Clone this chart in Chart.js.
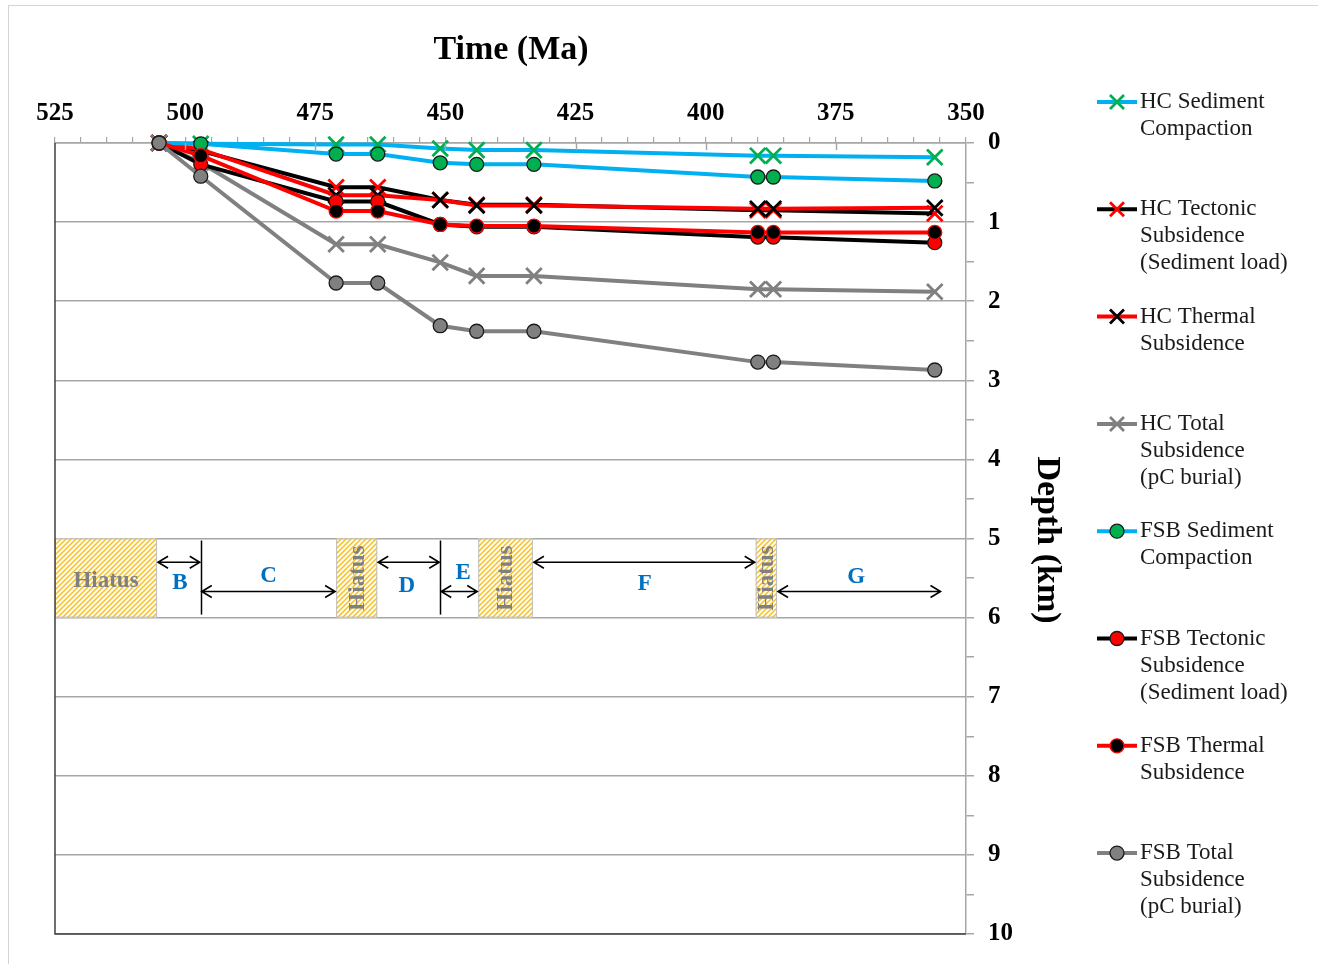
<!DOCTYPE html>
<html>
<head>
<meta charset="utf-8">
<script src="https://cdn.jsdelivr.net/npm/chart.js@4.4.1/dist/chart.umd.min.js"></script>
<style>
  html, body { margin: 0; padding: 0; background: #fff; }
  canvas { display: block; }
</style>
</head>
<body>
<canvas id="chart" width="1318" height="964"></canvas>
<script>
// ages (Ma) of the horizons
const ages = [505, 497, 471, 463, 451, 444, 433, 390, 387, 356];

// depth (km) for each series
const hcSedComp   = [0, 0.01, 0.02, 0.02, 0.07, 0.09, 0.09, 0.16, 0.16, 0.18];
const hcTectonic  = [0, 0.10, 0.56, 0.56, 0.72, 0.78, 0.78, 0.85, 0.85, 0.89];
const hcThermal   = [0, 0.08, 0.66, 0.66, 0.72, 0.79, 0.79, 0.83, 0.83, 0.82];
const hcTotal     = [0, 0.25, 1.28, 1.28, 1.51, 1.68, 1.68, 1.85, 1.85, 1.88];
const fsbSedComp  = [0, 0.01, 0.14, 0.14, 0.25, 0.27, 0.27, 0.43, 0.43, 0.48];
const fsbTectonic = [0, 0.27, 0.74, 0.74, 1.03, 1.06, 1.06, 1.19, 1.19, 1.26];
const fsbThermal  = [0, 0.16, 0.86, 0.86, 1.03, 1.05, 1.05, 1.13, 1.13, 1.13];
const fsbTotal    = [0, 0.42, 1.77, 1.77, 2.31, 2.38, 2.38, 2.77, 2.77, 2.87];

const seriesNames = [
  'HC Sediment Compaction', 'HC Tectonic Subsidence (Sediment load)', 'HC Thermal Subsidence',
  'HC Total Subsidence (pC burial)', 'FSB Sediment Compaction', 'FSB Tectonic Subsidence (Sediment load)',
  'FSB Thermal Subsidence', 'FSB Total Subsidence (pC burial)'
];
const legendLines = [
  ['HC Sediment', 'Compaction'],
  ['HC Tectonic', 'Subsidence', '(Sediment load)'],
  ['HC Thermal', 'Subsidence'],
  ['HC Total', 'Subsidence', '(pC burial)'],
  ['FSB Sediment', 'Compaction'],
  ['FSB Tectonic', 'Subsidence', '(Sediment load)'],
  ['FSB Thermal', 'Subsidence'],
  ['FSB Total', 'Subsidence', '(pC burial)']
];
const seriesValues = [hcSedComp, hcTectonic, hcThermal, hcTotal, fsbSedComp, fsbTectonic, fsbThermal, fsbTotal];

// time intervals shown in the 5-6 km band
const hiatusSpans = [[525, 505.4], [471, 463.1], [443.7, 433.2], [390.4, 386.3]];
const periodNames = ['B', 'C', 'D', 'E', 'F', 'G'];
const periodSpans = [[505.4, 497], [497, 471], [463.1, 451], [451, 443.7], [433.2, 390.4], [386.3, 354.7]];
const periodArrowDepth = [5.3, 5.67, 5.3, 5.67, 5.3, 5.67];
const periodLabelAt = [[501, 5.56], [484, 5.48], [457.4, 5.6], [446.6, 5.44], [411.7, 5.58], [371.1, 5.49]];
const boundaryAges = [497, 451];

const SERIF = "'Liberation Serif', 'Times New Roman', serif";

// line colour / marker per series
const styles = [
  { line: '#00b0f0', point: 'crossRot', fill: '#00b050', stroke: '#00b050' },
  { line: '#000000', point: 'crossRot', fill: '#ff0000', stroke: '#ff0000' },
  { line: '#ff0000', point: 'crossRot', fill: '#000000', stroke: '#000000' },
  { line: '#808080', point: 'crossRot', fill: '#808080', stroke: '#808080' },
  { line: '#00b0f0', point: 'circle',   fill: '#00b050', stroke: '#1a1a1a' },
  { line: '#000000', point: 'circle',   fill: '#ff0000', stroke: '#1a1a1a' },
  { line: '#ff0000', point: 'circle',   fill: '#000000', stroke: '#ff0000' },
  { line: '#808080', point: 'circle',   fill: '#808080', stroke: '#1a1a1a' }
];

const datasets = seriesValues.map((vals, i) => {
  const st = styles[i];
  const isCross = st.point === 'crossRot';
  return {
    label: seriesNames[i],
    data: ages.map((a, k) => ({ x: a, y: vals[k] })),
    borderColor: st.line,
    borderWidth: 4,
    pointStyle: st.point,
    pointRadius: isCross ? 11 : 7,
    pointBackgroundColor: st.fill,
    pointBorderColor: st.stroke,
    pointBorderWidth: isCross ? 2.8 : 1.3,
    tension: 0,
    clip: false,
    order: seriesValues.length - i
  };
});

function makeHatch(ctx) {
  const p = document.createElement('canvas');
  p.width = 5; p.height = 5;
  const g = p.getContext('2d');
  g.fillStyle = '#fffdf2';
  g.fillRect(0, 0, 5, 5);
  g.strokeStyle = '#f7be1e';
  g.lineWidth = 1.4;
  g.beginPath();
  g.moveTo(0, 5); g.lineTo(5, 0);
  g.moveTo(-1, 1); g.lineTo(1, -1);
  g.moveTo(4, 6); g.lineTo(6, 4);
  g.stroke();
  return ctx.createPattern(p, 'repeat');
}

function arrow(c, x1, x2, y) {
  c.beginPath();
  c.moveTo(x1, y); c.lineTo(x2, y);
  c.moveTo(x1 + 10, y - 6); c.lineTo(x1, y); c.lineTo(x1 + 10, y + 6);
  c.moveTo(x2 - 10, y - 6); c.lineTo(x2, y); c.lineTo(x2 - 10, y + 6);
  c.stroke();
}

function drawMarker(c, st, x, y) {
  if (st.point === 'crossRot') {
    const d = 7;
    c.strokeStyle = st.stroke; c.lineWidth = 2.8;
    c.beginPath();
    c.moveTo(x - d, y - d); c.lineTo(x + d, y + d);
    c.moveTo(x - d, y + d); c.lineTo(x + d, y - d);
    c.stroke();
  } else {
    c.fillStyle = st.fill; c.strokeStyle = st.stroke; c.lineWidth = 1.3;
    c.beginPath(); c.arc(x, y, 7, 0, Math.PI * 2); c.fill(); c.stroke();
  }
}

const decor = {
  id: 'decor',
  beforeDraw(chart) {
    const c = chart.ctx;
    c.save();
    c.fillStyle = '#fff';
    c.fillRect(0, 0, chart.width, chart.height);
    c.strokeStyle = '#d4d4d4'; c.lineWidth = 1;
    c.strokeRect(8.5, 5.5, chart.width + 10, chart.height + 10);
    c.restore();
  },
  beforeDatasetsDraw(chart) {
    const c = chart.ctx;
    const xs = chart.scales.x, ys = chart.scales.y;
    const top = ys.getPixelForValue(5), bot = ys.getPixelForValue(6);
    c.save();
    // hiatus boxes
    const hatch = makeHatch(c);
    hiatusSpans.forEach((s, i) => {
      const x1 = xs.getPixelForValue(s[0]), x2 = xs.getPixelForValue(s[1]);
      c.fillStyle = hatch;
      c.fillRect(x1, top, x2 - x1, bot - top);
      c.strokeStyle = '#bfbfbf'; c.lineWidth = 1;
      c.strokeRect(x1 + 0.5, top + 0.5, x2 - x1 - 1, bot - top - 1);
      c.fillStyle = '#808080';
      c.font = 'bold 23px ' + SERIF;
      c.textAlign = 'center'; c.textBaseline = 'middle';
      const cx = (x1 + x2) / 2, cy = (top + bot) / 2;
      if (i === 0) {
        c.fillText('Hiatus', cx, cy + 3);
      } else {
        c.save();
        c.translate(cx + 1, cy);
        c.rotate(-Math.PI / 2);
        c.fillText('Hiatus', 0, 0);
        c.restore();
      }
    });
    // boundaries
    c.strokeStyle = '#000'; c.lineWidth = 1.5;
    boundaryAges.forEach(a => {
      const x = Math.round(xs.getPixelForValue(a)) + 0.5;
      c.beginPath(); c.moveTo(x, top + 2); c.lineTo(x, bot - 3); c.stroke();
    });
    // interval arrows + letters
    periodSpans.forEach((s, i) => {
      const x1 = xs.getPixelForValue(s[0]) + 1, x2 = xs.getPixelForValue(s[1]) - 1;
      c.strokeStyle = '#000'; c.lineWidth = 1.6;
      arrow(c, x1, x2, ys.getPixelForValue(periodArrowDepth[i]));
      c.fillStyle = '#0070c0';
      c.font = 'bold 23px ' + SERIF;
      c.textAlign = 'center'; c.textBaseline = 'middle';
      c.fillText(periodNames[i], xs.getPixelForValue(periodLabelAt[i][0]), ys.getPixelForValue(periodLabelAt[i][1]));
    });
    c.restore();
  },
  afterDraw(chart) {
    const c = chart.ctx;
    const a = chart.chartArea;
    const xs = chart.scales.x;
    c.save();
    // left and bottom frame
    c.strokeStyle = '#404040'; c.lineWidth = 1.5;
    c.beginPath();
    c.moveTo(a.left, a.top); c.lineTo(a.left, a.bottom); c.lineTo(a.right, a.bottom);
    c.stroke();
    // major ticks cross the time axis
    c.strokeStyle = '#a6a6a6'; c.lineWidth = 1.5;
    for (let v = 500; v > 350; v -= 25) {
      const x = Math.round(xs.getPixelForValue(v)) + 0.5;
      c.beginPath(); c.moveTo(x, a.top); c.lineTo(x, a.top + 7); c.stroke();
    }
    // axis titles
    c.fillStyle = '#000';
    c.textAlign = 'center'; c.textBaseline = 'middle';
    c.font = 'bold 34px ' + SERIF;
    c.fillText('Time (Ma)', 511, 50);
    c.save();
    c.translate(1047, 540);
    c.rotate(Math.PI / 2);
    c.font = 'bold 34px ' + SERIF;
    c.fillText('Depth (km)', 0, 0);
    c.restore();
    // legend
    legendLines.forEach((lines, i) => {
      const y = 102 + i * 107.3;
      const st = styles[i];
      c.strokeStyle = st.line; c.lineWidth = 4;
      c.beginPath(); c.moveTo(1097, y); c.lineTo(1137, y); c.stroke();
      drawMarker(c, st, 1117, y);
      c.fillStyle = '#1a1a1a';
      c.font = '23px ' + SERIF;
      c.textAlign = 'left'; c.textBaseline = 'middle';
      lines.forEach((t, k) => c.fillText(t, 1140, y + k * 27));
    });
    c.restore();
  }
};

new Chart(document.getElementById('chart'), {
  type: 'line',
  data: { datasets },
  plugins: [decor],
  options: {
    responsive: false,
    animation: false,
    devicePixelRatio: 1,
    layout: { padding: { left: 55, right: 0, top: 0, bottom: 30 } },
    plugins: { legend: { display: false }, title: { display: false }, tooltip: { enabled: false } },
    scales: {
      x: {
        type: 'linear',
        position: 'top',
        min: 350, max: 525,
        reverse: true,
        afterFit: s => { s.height = 143; },
        ticks: {
          stepSize: 5,
          autoSkip: false,
          maxRotation: 0,
          padding: 8,
          color: '#000',
          font: { family: SERIF, size: 25, weight: 'bold' },
          callback: v => (v % 25 === 0 ? String(v) : '')
        },
        grid: { drawOnChartArea: false, tickLength: 6, color: '#a6a6a6', lineWidth: 1.2 },
        border: { color: '#a6a6a6', width: 1.5 }
      },
      y: {
        type: 'linear',
        position: 'right',
        min: 0, max: 10,
        reverse: true,
        afterFit: s => { s.width = 352; },
        ticks: {
          stepSize: 0.5,
          autoSkip: false,
          padding: 14,
          color: '#000',
          font: { family: SERIF, size: 25, weight: 'bold' },
          callback: v => (Number.isInteger(v) ? String(v) : '')
        },
        grid: {
          tickLength: 8,
          lineWidth: 1.5,
          color: ctx => (Number.isInteger(ctx.tick.value) ? '#a6a6a6' : 'rgba(0,0,0,0)'),
          tickColor: '#a6a6a6'
        },
        border: { color: '#a6a6a6', width: 1.5 }
      }
    }
  }
});
</script>
</body>
</html>
